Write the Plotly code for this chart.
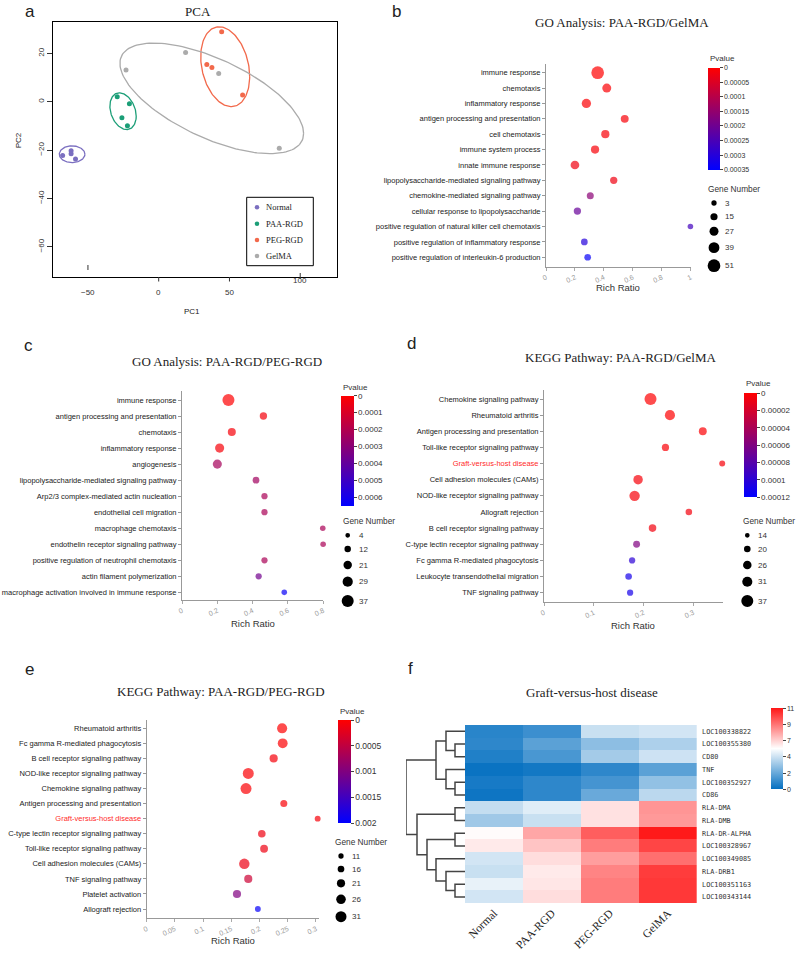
import numpy as np
import plotly.graph_objects as go

W, H = 797, 954
SERIF = "Liberation Serif, Times New Roman, serif"
SANS = "Liberation Sans, Arial, sans-serif"
MONO = "DejaVu Sans Mono, monospace"

# ---------------- a: PCA ----------------
groups = ["Normal", "PAA-RGD", "PEG-RGD", "GelMA"]
group_colors = ["#7B6FC0", "#1B9E77", "#F2694B", "#ABABAB"]
pc1 = [[-67.9, -61.9, -61.9, -58.8],
       [-29.3, -20.7, -26.0, -22.1],
       [44.5, 34.0, 37.6, 59.3],
       [-23.1, 19.0, 42.4, 85.2]]
pc2 = [[-22.2, -20.3, -21.5, -23.7],
       [2.1, -0.8, -6.6, -9.9],
       [29.0, 15.4, 14.2, 2.8],
       [13.1, 20.4, 11.7, -19.2]]
pc1_ticks = [-50, 0, 50, 100]
pc2_ticks = [-60, -40, -20, 0, 20]
# ellipses: centre and two conjugate half-axes
ell_center = [(-61.2, -21.7), (-25.2, -3.9), (47.0, 14.5), (37.5, 1.4)]
ell_u = [(9.05, 0.0), (9.3, -2.1), (17.3, -4.1), (64.9, -14.5)]
ell_v = [(0.0, 3.45), (0.0, 7.3), (0.0, 16.0), (0.0, 17.7)]

# ---------------- b: GO PAA-RGD/GelMA ----------------
go1_terms = ["immune response", "chemotaxis", "inflammatory response",
             "antigen processing and presentation", "cell chemotaxis", "immune system process",
             "innate immune response", "lipopolysaccharide-mediated signaling pathway",
             "chemokine-mediated signaling pathway", "cellular response to lipopolysaccharide",
             "positive regulation of natural killer cell chemotaxis",
             "positive regulation of inflammatory response",
             "positive regulation of interleukin-6 production"]
go1_ratio = [0.357, 0.42, 0.279, 0.544, 0.41, 0.339, 0.2, 0.468, 0.306, 0.217, 0.998, 0.265, 0.288]
go1_pval = [0.0, 0.000005, 0.000005, 0.00001, 0.00001, 0.00001, 0.00002, 0.00002,
            0.00016, 0.00021, 0.00026, 0.0003, 0.00034]
go1_genes = [51, 27, 29, 20, 22, 22, 25, 16, 14, 16, 5, 12, 12]
go1_size_legend = [3, 15, 27, 39, 51]
go1_pticks = [0, 0.00005, 0.0001, 0.00015, 0.0002, 0.00025, 0.0003, 0.00035]
go1_plabels = ["0", "0.00005", "0.0001", "0.00015", "0.0002", "0.00025", "0.0003", "0.00035"]
go1_xticks = [0, 0.2, 0.4, 0.6, 0.8, 1]

# ---------------- c: GO PAA-RGD/PEG-RGD ----------------
go2_terms = ["immune response", "antigen processing and presentation", "chemotaxis",
             "inflammatory response", "angiogenesis",
             "lipopolysaccharide-mediated signaling pathway",
             "Arp2/3 complex-mediated actin nucleation", "endothelial cell migration",
             "macrophage chemotaxis", "endothelin receptor signaling pathway",
             "positive regulation of neutrophil chemotaxis", "actin filament polymerization",
             "macrophage activation involved in immune response"]
go2_ratio = [0.263, 0.461, 0.282, 0.213, 0.2, 0.419, 0.467, 0.467, 0.797, 0.799, 0.467, 0.434, 0.579]
go2_pval = [0.000002, 0.00003, 0.00002, 0.00002, 0.00023, 0.00024, 0.00022, 0.00022,
            0.00022, 0.00022, 0.00022, 0.00036, 0.00063]
go2_genes = [37, 16, 19, 24, 24, 13, 11, 11, 8, 8, 11, 11, 8]
go2_size_legend = [4, 12, 21, 29, 37]
go2_pticks = [0, 0.0001, 0.0002, 0.0003, 0.0004, 0.0005, 0.0006]
go2_plabels = ["0", "0.0001", "0.0002", "0.0003", "0.0004", "0.0005", "0.0006"]
go2_xticks = [0, 0.2, 0.4, 0.6, 0.8]

# ---------------- d: KEGG PAA-RGD/GelMA ----------------
kegg1_terms = ["Chemokine signaling pathway", "Rheumatoid arthritis",
               "Antigen processing and presentation", "Toll-like receptor signaling pathway",
               "Graft-versus-host disease", "Cell adhesion molecules (CAMs)",
               "NOD-like receptor signaling pathway", "Allograft rejection",
               "B cell receptor signaling pathway", "C-type lectin receptor signaling pathway",
               "Fc gamma R-mediated phagocytosis", "Leukocyte transendothelial migration",
               "TNF signaling pathway"]
kegg1_ratio = [0.214, 0.253, 0.319, 0.244, 0.358, 0.189, 0.182, 0.291, 0.218, 0.186, 0.177, 0.17, 0.173]
kegg1_pval = [0.0000005, 0.000001, 0.000002, 0.000003, 0.000004, 0.000004, 0.000004,
              0.000005, 0.000006, 0.00006, 0.0001, 0.00011, 0.00011]
kegg1_genes = [37, 31, 24, 22, 18, 29, 32, 20, 23, 21, 19, 20, 19]
kegg1_size_legend = [14, 20, 26, 31, 37]
kegg1_pticks = [0, 0.00002, 0.00004, 0.00006, 0.00008, 0.0001, 0.00012]
kegg1_plabels = ["0", "0.00002", "0.00004", "0.00006", "0.00008", "0.0001", "0.00012"]
kegg1_xticks = [0, 0.1, 0.2, 0.3]

# ---------------- e: KEGG PAA-RGD/PEG-RGD ----------------
kegg2_terms = ["Rheumatoid arthritis", "Fc gamma R-mediated phagocytosis",
               "B cell receptor signaling pathway", "NOD-like receptor signaling pathway",
               "Chemokine signaling pathway", "Antigen processing and presentation",
               "Graft-versus-host disease", "C-type lectin receptor signaling pathway",
               "Toll-like receptor signaling pathway", "Cell adhesion molecules (CAMs)",
               "TNF signaling pathway", "Platelet activation", "Allograft rejection"]
kegg2_ratio = [0.240, 0.241, 0.225, 0.18, 0.176, 0.243, 0.303, 0.204, 0.208, 0.173, 0.18, 0.16, 0.197]
kegg2_pval = [0.00001, 0.00002, 0.00008, 0.00003, 0.00003, 0.00005, 0.00006, 0.00012,
              0.00013, 0.00014, 0.0004, 0.001, 0.00195]
kegg2_genes = [28, 27, 21, 31, 31, 17, 13, 19, 20, 29, 21, 21, 13]
kegg2_size_legend = [11, 16, 21, 26, 31]
kegg2_pticks = [0, 0.0005, 0.001, 0.0015, 0.002]
kegg2_plabels = ["0", "0.0005", "0.001", "0.0015", "0.002"]
kegg2_xticks = [0, 0.05, 0.1, 0.15, 0.2, 0.25, 0.3]

# ---------------- f: heatmap ----------------
hm_samples = ["Normal", "PAA-RGD", "PEG-RGD", "GelMA"]
hm_genes = ["LOC100338822", "LOC100355380", "CD80", "TNF", "LOC100352927", "CD86",
            "RLA-DMA", "RLA-DMB", "RLA-DR-ALPHA", "LOC100328967", "LOC100349085",
            "RLA-DRB1", "LOC100351163", "LOC100343144"]
hm_values = [[0.8, 1.2, 4.3, 4.5],
             [0.9, 1.9, 3.0, 3.7],
             [0.6, 1.5, 3.5, 4.4],
             [0.1, 0.3, 0.9, 1.9],
             [0.4, 0.9, 1.4, 3.1],
             [0.2, 0.9, 2.2, 4.0],
             [4.2, 4.8, 6.2, 8.0],
             [3.4, 4.3, 6.2, 7.9],
             [5.6, 7.6, 9.3, 10.9],
             [6.0, 6.9, 8.6, 9.9],
             [4.5, 6.3, 7.8, 8.9],
             [4.3, 6.0, 8.4, 10.1],
             [5.0, 6.1, 8.6, 10.2],
             [4.5, 6.3, 8.6, 10.2]]
hm_ticks = [0, 2.2, 4.4, 6.6, 8.8, 11]
hm_ticklabels = ["0", "2", "4", "7", "9", "11"]
# row dendrogram: (left node, right node, height); leaves 0..13, new nodes from 14
dendro_merges = [(1, 2, 1.0), (0, 14, 1.9), (4, 5, 1.0), (3, 16, 1.9), (15, 17, 2.9),
                 (6, 7, 1.0), (8, 9, 1.0), (12, 13, 1.0), (11, 21, 1.9), (10, 22, 2.9),
                 (20, 23, 3.8), (19, 24, 4.8), (18, 25, 5.9)]


def X(p):
    return p / W


def Y(p):
    return 1 - p / H


def dom_x(a, b):
    return [a / W, b / W]


def dom_y(top, bottom):
    return [1 - bottom / H, 1 - top / H]


ann = []
shp = []


def label(x, y, s, size, family=SANS, color="#222", xanchor="center", angle=0, xref="paper"):
    ann.append(dict(x=X(x) if xref == "paper" else x, y=Y(y), xref=xref, yref="paper", text=s,
                    showarrow=False, font=dict(size=size, family=family, color=color),
                    xanchor=xanchor, yanchor="middle", textangle=angle))


def dot(cx, cy, d, color):
    shp.append(dict(type="circle", xref="paper", yref="paper",
                    x0=X(cx - d / 2), x1=X(cx + d / 2), y0=Y(cy + d / 2), y1=Y(cy - d / 2),
                    fillcolor=color, line=dict(width=0)))


fig = go.Figure()
axes = {}

# ---- panel a ----
t = np.linspace(0, 2 * np.pi, 150)
for i, g in enumerate(groups):
    cx, cy = ell_center[i]
    ux, uy = ell_u[i]
    vx, vy = ell_v[i]
    fig.add_trace(go.Scatter(x=cx + ux * np.cos(t) + vx * np.sin(t),
                             y=cy + uy * np.cos(t) + vy * np.sin(t),
                             mode="lines", line=dict(color=group_colors[i], width=1.3),
                             xaxis="x", yaxis="y", showlegend=False, hoverinfo="skip"))
for i, g in enumerate(groups):
    fig.add_trace(go.Scatter(x=pc1[i], y=pc2[i], mode="markers", name=g,
                             marker=dict(color=group_colors[i], size=5),
                             xaxis="x", yaxis="y", showlegend=False))

axes["xaxis"] = dict(domain=dom_x(53, 337), range=[-74.7, 126], showticklabels=False, ticks="",
                     showline=True, mirror=True, linecolor="black", linewidth=1,
                     showgrid=False, zeroline=False, anchor="y")
axes["yaxis"] = dict(domain=dom_y(22, 277), range=[-72.5, 33], tickvals=pc2_ticks,
                     ticks="outside", ticklen=5, tickcolor="#333", tickangle=-90,
                     showline=True, mirror=True, linecolor="black", linewidth=1,
                     showgrid=False, zeroline=False, tickfont=dict(size=8, color="#333"),
                     anchor="x")
# x ticks drawn by hand: the original has the -50 and 100 ticks displaced
xtick_span = [(265, 270), (277, 281.5), (277, 281.5), (273, 279)]
xtick_label_y = [292.3, 292, 292, 280]
for xv, (y0, y1), ly in zip(pc1_ticks, xtick_span, xtick_label_y):
    shp.append(dict(type="line", xref="x", yref="paper", x0=xv, x1=xv, y0=Y(y1), y1=Y(y0),
                    line=dict(color="#333", width=1)))
    label(xv, ly, "%g" % xv if xv >= 0 else "\u2212%g" % -xv, 8, SANS, "#333", xref="x")
label(198, 11, "PCA", 13, SERIF)
label(29.7, 11, "a", 17)
label(192.3, 311.7, "PC1", 8)
label(18.3, 140, "PC2", 8, angle=-90)
# legend box
shp.append(dict(type="rect", xref="paper", yref="paper", x0=X(246.7), x1=X(313.3),
                y0=Y(265.7), y1=Y(197.3), line=dict(color="black", width=1)))
for g, c, yy in zip(groups, group_colors, [207.3, 223.7, 240, 256]):
    dot(257, yy, 4.5, c)
    label(264, yy, g, 8.5, SERIF, "#222", "left")

# ---- bubble panels b-e ----
bubble_panels = [
    dict(k=2, terms=go1_terms, ratio=go1_ratio, pval=go1_pval, genes=go1_genes,
         sizes=go1_size_legend, pticks=go1_pticks, plabels=go1_plabels, pmax=0.00035,
         xticks=go1_xticks, xmax=1.0, box=(546, 690.7, 64, 266.7), row0=72.7, rowstep=15.38,
         cbar=(707.7, 67.7, 170, 11.7), cb_font=7, pv_y=58.3, dsize=(5.3, 12.7),
         leg_title=(734, 188.7), leg_cx=714, leg_y=[203, 216.7, 231.3, 247.7, 265.7],
         title="GO Analysis: PAA-RGD/GelMA", title_xy=(621.5, 22.3),
         letter="b", letter_xy=(396.7, 11), rr_xy=(618, 287)),
    dict(k=3, terms=go2_terms, ratio=go2_ratio, pval=go2_pval, genes=go2_genes,
         sizes=go2_size_legend, pticks=go2_pticks, plabels=go2_plabels, pmax=0.00065,
         xticks=go2_xticks, xmax=0.8, box=(182, 323.3, 390.7, 600), row0=400, rowstep=16.03,
         cbar=(340.7, 395.7, 506, 13.3), cb_font=8, pv_y=387, dsize=(4.7, 12),
         leg_title=(368.8, 520.7), leg_cx=347.7, leg_y=[535.3, 549, 565, 581.7, 601],
         title="GO Analysis: PAA-RGD/PEG-RGD", title_xy=(226.7, 361.7),
         letter="c", letter_xy=(28.3, 345), rr_xy=(252.7, 623.3)),
    dict(k=4, terms=kegg1_terms, ratio=kegg1_ratio, pval=kegg1_pval, genes=kegg1_genes,
         sizes=kegg1_size_legend, pticks=kegg1_pticks, plabels=kegg1_plabels, pmax=0.00012,
         xticks=kegg1_xticks, xmax=0.36, box=(544, 723.2, 390, 602), row0=399, rowstep=16.14,
         cbar=(744, 393.3, 497.3, 13.3), cb_font=8, pv_y=383.3, dsize=(4.7, 12),
         leg_title=(768.8, 520.7), leg_cx=747.3, leg_y=[535.3, 549, 565, 581.7, 601],
         title="KEGG Pathway: PAA-RGD/GelMA", title_xy=(621, 357.3),
         letter="d", letter_xy=(411.7, 343.3), rr_xy=(633.3, 625.7)),
    dict(k=5, terms=kegg2_terms, ratio=kegg2_ratio, pval=kegg2_pval, genes=kegg2_genes,
         sizes=kegg2_size_legend, pticks=kegg2_pticks, plabels=kegg2_plabels, pmax=0.002,
         xticks=kegg2_xticks, xmax=0.305, box=(146.7, 318.8, 720, 918.3), row0=728.3, rowstep=15.06,
         cbar=(337.7, 720, 823.3, 13), cb_font=8.5, pv_y=711, dsize=(5.3, 11),
         leg_title=(361.3, 841.7), leg_cx=341, leg_y=[856, 869, 883.3, 899.3, 916.7],
         title="KEGG Pathway: PAA-RGD/PEG-RGD", title_xy=(221, 691),
         letter="e", letter_xy=(29.3, 669.3), rr_xy=(232.7, 940)),
]

for p in bubble_panels:
    k = p["k"]
    n = len(p["terms"])
    nmin, nmax = p["sizes"][0], p["sizes"][-1]
    dmin, dmax = p["dsize"]
    msize = [dmin + (g - nmin) / (nmax - nmin) * (dmax - dmin) for g in p["genes"]]
    cx0, ctop, cbot, cth = p["cbar"]
    fig.add_trace(go.Scatter(
        x=p["ratio"], y=list(range(n)), mode="markers", xaxis=f"x{k}", yaxis=f"y{k}",
        showlegend=False, cliponaxis=False,
        marker=dict(size=msize, color=[-v for v in p["pval"]], cmin=-p["pmax"], cmax=0,
                    colorscale=[[0, "#0000FF"], [1, "#FF0000"]], line=dict(width=0),
                    showscale=True,
                    colorbar=dict(x=X(cx0), xanchor="left", y=Y(ctop), yanchor="top",
                                  len=cbot - ctop, lenmode="pixels", thickness=cth,
                                  thicknessmode="pixels", xpad=0, ypad=0, outlinewidth=0,
                                  ticks="outside", ticklen=3, tickwidth=1, tickcolor="#444",
                                  tickvals=[-v for v in p["pticks"]], ticktext=p["plabels"],
                                  tickfont=dict(size=p["cb_font"], family=SANS, color="#333")))))
    x0, x1, top, bottom = p["box"]
    ticktext = [("<span style='color:#FF2A2A'>%s</span>" % s) if s == "Graft-versus-host disease" else s
                for s in p["terms"]]
    axes[f"xaxis{k}"] = dict(domain=dom_x(x0, x1), range=[0, p["xmax"]], tickvals=p["xticks"],
                             ticktext=[("%g" % v) for v in p["xticks"]], tickangle=-25,
                             ticks="outside", ticklen=3, tickcolor="#aaa",
                             showline=True, linecolor="#999", linewidth=1,
                             showgrid=False, zeroline=False, anchor=f"y{k}",
                             tickfont=dict(size=7, color="#999"))
    axes[f"yaxis{k}"] = dict(domain=dom_y(top, bottom),
                             range=[(bottom - p["row0"]) / p["rowstep"], (top - p["row0"]) / p["rowstep"]],
                             tickvals=list(range(n)), ticktext=ticktext,
                             ticks="outside", ticklen=3, tickcolor="#999",
                             showline=True, linecolor="#999", linewidth=1,
                             showgrid=False, zeroline=False, anchor=f"x{k}",
                             tickfont=dict(size=7.5, color="#222"))
    label(cx0, p["pv_y"], "Pvalue", 8, SANS, "#333", "left")
    label(p["leg_title"][0], p["leg_title"][1], "Gene Number", 8.3, SANS, "#333")
    for v, yy in zip(p["sizes"], p["leg_y"]):
        d = dmin + (v - nmin) / (nmax - nmin) * (dmax - dmin)
        dot(p["leg_cx"], yy, d, "black")
        label(p["leg_cx"] + dmax / 2 + 3, yy, str(v), 8, SANS, "#333", "left")
    label(p["title_xy"][0], p["title_xy"][1], p["title"], 13, SERIF)
    label(p["letter_xy"][0], p["letter_xy"][1], p["letter"], 17)
    label(p["rr_xy"][0], p["rr_xy"][1], "Rich Ratio", 9.5, SANS, "#333")

# ---- panel f ----
nrow = len(hm_genes)
fig.add_trace(go.Heatmap(
    z=hm_values, x=hm_samples, y=list(range(nrow)), xaxis="x6", yaxis="y6",
    zmin=0, zmax=11, colorscale=[[0, "#0570C1"], [0.5, "#FFFFFF"], [1, "#FF1616"]],
    colorbar=dict(x=X(771), xanchor="left", y=Y(708.3), yanchor="top", len=80.7,
                  lenmode="pixels", thickness=11.7, thicknessmode="pixels", xpad=0, ypad=0,
                  outlinewidth=0, ticks="outside", ticklen=3, tickcolor="#444",
                  tickvals=hm_ticks, ticktext=hm_ticklabels,
                  tickfont=dict(size=7, family=SANS, color="#333"))))
axes["xaxis6"] = dict(domain=dom_x(465, 696.7), tickangle=-45, ticks="",
                      showgrid=False, zeroline=False, showline=False,
                      tickfont=dict(size=11.5, family=SERIF, color="#222"), anchor="y6")
axes["yaxis6"] = dict(domain=dom_y(725, 903.3), range=[nrow - 0.5, -0.5], side="right",
                      tickvals=list(range(nrow)), ticktext=hm_genes, ticks="outside", ticklen=3,
                      tickcolor="rgba(0,0,0,0)", showgrid=False, zeroline=False, showline=False,
                      tickfont=dict(size=6.8, family=MONO, color="#333"), anchor="x6")

# dendrogram
pos = {i: float(i) for i in range(nrow)}
hgt = {i: 0.0 for i in range(nrow)}
dx, dy = [], []
for j, (a, b, h) in enumerate(dendro_merges):
    dx += [hgt[a], h, h, hgt[b], None]
    dy += [pos[a], pos[a], pos[b], pos[b], None]
    node = nrow + j
    pos[node] = (pos[a] + pos[b]) / 2
    hgt[node] = h
fig.add_trace(go.Scatter(x=dx, y=dy, mode="lines", line=dict(color="#444", width=1.5),
                         xaxis="x7", yaxis="y7", showlegend=False, hoverinfo="skip",
                         cliponaxis=False))
axes["xaxis7"] = dict(domain=dom_x(406, 465), range=[5.9, 0], visible=False, anchor="y7")
axes["yaxis7"] = dict(domain=dom_y(725, 903.3), range=[nrow - 0.5, -0.5], visible=False, anchor="x7")
label(591.7, 692.7, "Graft-versus-host disease", 13, SERIF)
label(410, 668.3, "f", 17)

fig.update_layout(width=W, height=H, margin=dict(l=0, r=0, t=0, b=0, pad=0),
                  template="none", paper_bgcolor="white", plot_bgcolor="white",
                  font=dict(family=SANS, color="#222"), showlegend=False,
                  annotations=ann, shapes=shp, **axes)

# the page body has a default 8px margin; drop it so the figure fills the window exactly
fig.write_html("out.html", config={"displayModeBar": False},
               post_script="document.body.style.margin='0px';")
